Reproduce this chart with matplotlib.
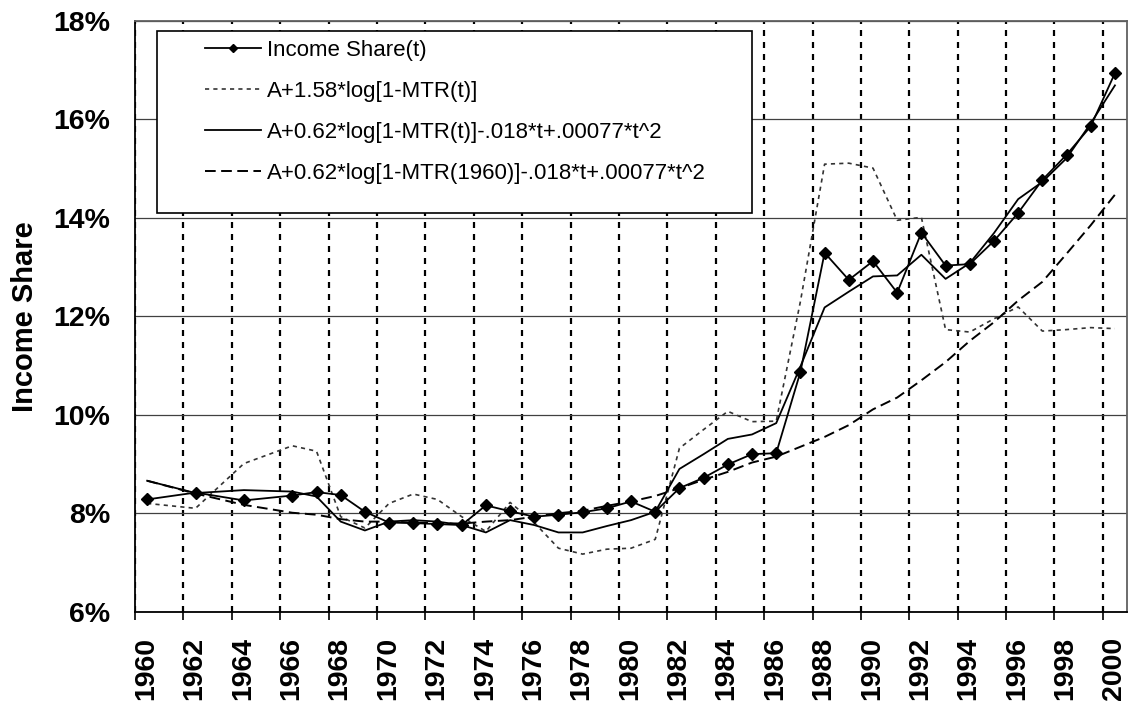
import matplotlib
matplotlib.use("Agg")
import matplotlib.pyplot as plt
from matplotlib.patches import Rectangle
from matplotlib.transforms import ScaledTranslation
import numpy as np

# ============================================================
# DATA (percent)
# ============================================================

years = [1960, 1962, 1964, 1966,
         1967, 1968, 1969, 1970, 1971, 1972, 1973,
         1974, 1975, 1976, 1977, 1978, 1979, 1980, 1981,
         1982, 1983, 1984, 1985, 1986, 1987,
         1988, 1989, 1990, 1991, 1992, 1993, 1994,
         1995, 1996, 1997, 1998, 1999, 2000]

income_share = [8.28, 8.42, 8.26, 8.36,
                8.43, 8.37, 8.03, 7.81, 7.80, 7.78, 7.76,
                8.16, 8.04, 7.93, 7.97, 8.02, 8.10, 8.24, 8.03,
                8.51, 8.72, 8.99, 9.20, 9.22, 10.87,
                13.29, 12.74, 13.12, 12.48, 13.70, 13.03, 13.06,
                13.53, 14.10, 14.77, 15.28, 15.86, 16.94]

fit_mtr_only = [8.20, 8.10, 9.01, 9.37,
                9.26, 7.93, 7.70, 8.20, 8.39, 8.28, 7.93,
                7.63, 8.22, 7.81, 7.29, 7.17, 7.27, 7.29, 7.47,
                9.32, 9.70, 10.07, 9.86, 9.87, 12.30,
                15.09, 15.11, 15.01, 13.95, 14.01, 11.73, 11.68,
                11.95, 12.19, 11.70, 11.73, 11.77, 11.75]

fit_mtr_trend = [8.66, 8.41, 8.47, 8.44,
                 8.34, 7.83, 7.65, 7.83, 7.86, 7.83, 7.76,
                 7.61, 7.86, 7.76, 7.61, 7.61, 7.74, 7.86, 8.03,
                 8.90, 9.20, 9.51, 9.60, 9.83, 10.98,
                 12.18, 12.50, 12.81, 12.83, 13.25, 12.76, 13.08,
                 13.69, 14.38, 14.73, 15.21, 15.92, 16.69]

fit_1960_trend = [8.66, 8.40, 8.17, 8.01,
                  7.97, 7.88, 7.83, 7.83, 7.81, 7.80, 7.79,
                  7.83, 7.86, 7.93, 8.00, 8.05, 8.15, 8.24, 8.35,
                  8.51, 8.68, 8.84, 9.03, 9.15, 9.35,
                  9.55, 9.79, 10.11, 10.35, 10.70, 11.07, 11.50,
                  11.88, 12.32, 12.70, 13.27, 13.85, 14.47]

labels = [
    "Income Share(t)",
    "A+1.58*log[1-MTR(t)]",
    "A+0.62*log[1-MTR(t)]-.018*t+.00077*t^2",
    "A+0.62*log[1-MTR(1960)]-.018*t+.00077*t^2",
]

x_ticks = list(range(1960, 2001, 2))
y_ticks = [6, 8, 10, 12, 14, 16, 18]

# ============================================================
# FIGURE
# ============================================================

plt.rcParams["font.family"] = ["Liberation Sans", "DejaVu Sans"]

fig = plt.figure(figsize=(11.31, 7.08), dpi=100)
ax = fig.add_axes([0.1194, 0.136, 0.8771, 0.8345])

# points sit in the middle of each year
x = np.array(years) + 0.5

l1, = ax.plot(x, income_share, color="black", lw=1.3,
              marker="D", markersize=6.5, label=labels[0], zorder=4)
l2, = ax.plot(x, fit_mtr_only, color="#333333", lw=1.2,
              linestyle=(0, (2.5, 2.5)), label=labels[1], zorder=3)
l3, = ax.plot(x, fit_mtr_trend, color="black", lw=1.3,
              label=labels[2], zorder=3)
l4, = ax.plot(x, fit_1960_trend, color="black", lw=1.4,
              linestyle=(0, (5.5, 2.8)), label=labels[3], zorder=3)

ax.set_xlim(1960, 2001)
ax.set_ylim(6, 18)

ax.set_xticks(x_ticks)
ax.set_xticklabels([str(y) for y in x_ticks], rotation=90,
                   fontweight="bold", fontsize=20.5, va="top", ha="center")
ax.set_yticks(y_ticks)
ax.set_yticklabels([f"{v}%" for v in y_ticks], fontweight="bold", fontsize=20.5)

ax.tick_params(axis="x", length=6, width=1.2, pad=12, direction="out")
ax.tick_params(axis="y", length=0, pad=18)

offset = ScaledTranslation(0.11, 0, fig.dpi_scale_trans)
for lab in ax.get_xticklabels():
    lab.set_transform(lab.get_transform() + offset)

ax.set_ylabel("Income Share", fontweight="bold", fontsize=21)
ax.yaxis.set_label_coords(-0.097, 0.5)

# gridlines
ax.set_axisbelow(True)
ax.grid(axis="x", color="black", lw=1.6, linestyle=(0, (2.7, 2.7)))
ax.grid(axis="y", color="#404040", lw=0.9)

for side in ["left", "bottom"]:
    ax.spines[side].set_color("black")
    ax.spines[side].set_linewidth(1.3)
for side in ["top", "right"]:
    ax.spines[side].set_color("#606060")
    ax.spines[side].set_linewidth(1.3)

# ============================================================
# LEGEND
# ============================================================

box = Rectangle((0.0222, 0.675), 0.600, 0.308, transform=ax.transAxes,
                facecolor="white", edgecolor="black", lw=1.2, zorder=5)
ax.add_patch(box)

leg = ax.legend(handles=[l1, l2, l3, l4], loc="upper left",
                bbox_to_anchor=(0.0706, 0.968), frameon=False,
                fontsize=16, handlelength=2.5, handletextpad=0.3,
                labelspacing=0.9, borderpad=0, borderaxespad=0,
                markerscale=0.65)
leg.set_zorder(6)

fig.savefig("out.png", dpi=100)
plt.close(fig)
